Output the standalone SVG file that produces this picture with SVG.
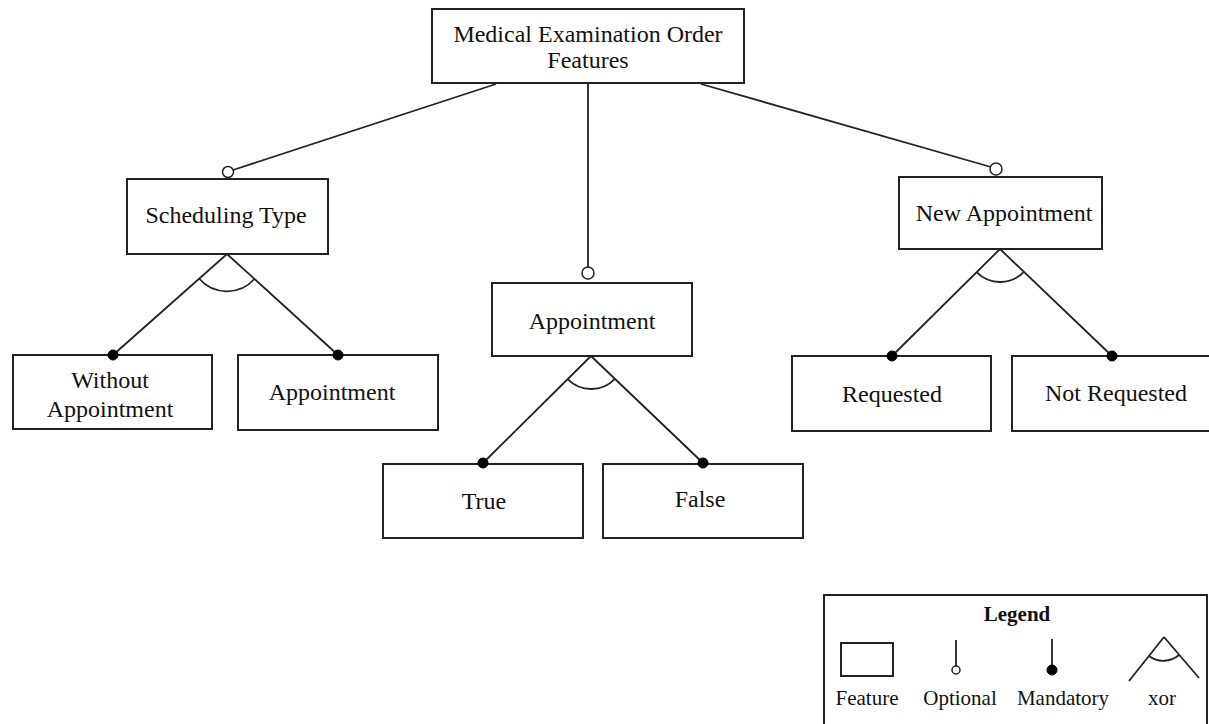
<svg xmlns="http://www.w3.org/2000/svg" width="1209" height="724" viewBox="0 0 1209 724">
<style>
.box{fill:#fff;stroke:#222;stroke-width:2}
.ln{fill:none;stroke:#222;stroke-width:1.8}
.opt{fill:#fff;stroke:#222;stroke-width:1.5}
.man{fill:#000;stroke:#000;stroke-width:1}
text{font-family:"Liberation Serif","Times New Roman",serif;font-size:24px;fill:#111;text-anchor:middle}
.lg{font-size:21px}
.lgb{font-size:21px;font-weight:bold}
</style>
<rect width="1209" height="724" fill="#fff"/>
<g id="root"><rect class="box" x="432" y="9" width="312" height="74"/><text x="588" y="42">Medical Examination Order</text><text x="588" y="68">Features</text></g>
<g id="scheduling-type"><rect class="box" x="127" y="179" width="201" height="75"/><text x="226" y="223">Scheduling Type</text></g>
<g id="without-appointment"><rect class="box" x="13" y="355" width="199" height="74"/><text x="110" y="388">Without</text><text x="110" y="417">Appointment</text></g>
<g id="appointment-left"><rect class="box" x="238" y="355" width="200" height="75"/><text x="332" y="400">Appointment</text></g>
<g id="appointment"><rect class="box" x="492" y="283" width="200" height="73"/><text x="592" y="329">Appointment</text></g>
<g id="true"><rect class="box" x="383" y="464" width="200" height="74"/><text x="484" y="509">True</text></g>
<g id="false"><rect class="box" x="603" y="464" width="200" height="74"/><text x="700" y="507">False</text></g>
<g id="new-appointment"><rect class="box" x="899" y="177" width="203" height="72"/><text x="1004" y="221">New Appointment</text></g>
<g id="requested"><rect class="box" x="792" y="356" width="199" height="75"/><text x="892" y="402">Requested</text></g>
<g id="not-requested"><rect class="box" x="1012" y="356" width="200" height="75"/><text x="1116" y="401">Not Requested</text></g>
<g id="connectors">
<line class="ln" x1="496" y1="84" x2="233" y2="170"/>
<line class="ln" x1="588" y1="84" x2="588" y2="267"/>
<line class="ln" x1="701" y1="84" x2="991" y2="167"/>
<line class="ln" x1="227" y1="254" x2="113" y2="355"/>
<line class="ln" x1="227" y1="254" x2="338" y2="355"/>
<path class="ln" d="M199,278.5 A37,37 0 0 0 254.5,279"/>
<line class="ln" x1="591" y1="356" x2="483" y2="463"/>
<line class="ln" x1="591" y1="356" x2="703" y2="463"/>
<path class="ln" d="M567.6,379.2 A33,33 0 0 0 614.9,378.8"/>
<line class="ln" x1="1000" y1="249" x2="892" y2="356"/>
<line class="ln" x1="1000" y1="249" x2="1112" y2="356"/>
<path class="ln" d="M976.6,272.2 A33,33 0 0 0 1023.9,271.8"/>
<circle class="opt" cx="228" cy="172" r="5.5"/>
<circle class="opt" cx="588" cy="273" r="6"/>
<circle class="opt" cx="996" cy="169" r="6"/>
<circle class="man" cx="113" cy="355" r="5"/>
<circle class="man" cx="338" cy="355" r="5"/>
<circle class="man" cx="483" cy="463" r="5"/>
<circle class="man" cx="703" cy="463" r="5"/>
<circle class="man" cx="892" cy="356" r="5"/>
<circle class="man" cx="1112" cy="356" r="5"/>
</g>
<g id="legend">
<rect class="box" x="824" y="595" width="383" height="135"/>
<text class="lgb" x="1017" y="621">Legend</text>
<rect class="box" x="841" y="643" width="52" height="33"/>
<line class="ln" x1="956" y1="640" x2="956" y2="666"/>
<circle class="opt" cx="956" cy="670" r="4"/>
<line class="ln" x1="1052" y1="639" x2="1052" y2="666"/>
<circle class="man" cx="1052" cy="670" r="5"/>
<line class="ln" x1="1164" y1="637" x2="1129" y2="681"/>
<line class="ln" x1="1164" y1="637" x2="1199" y2="678"/>
<path class="ln" d="M1149,656 A24,24 0 0 0 1179,655"/>
<text class="lg" x="867" y="705">Feature</text>
<text class="lg" x="960" y="705">Optional</text>
<text class="lg" x="1063" y="705">Mandatory</text>
<text class="lg" x="1162" y="705">xor</text>
</g>
</svg>
